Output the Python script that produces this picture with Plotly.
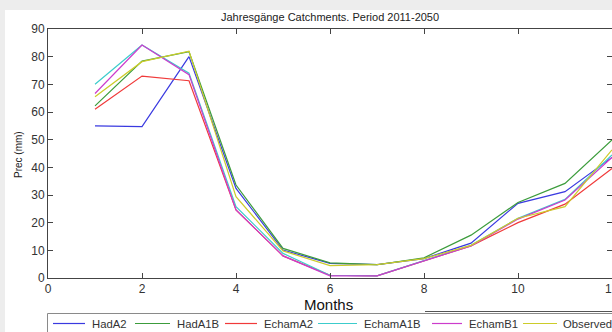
import plotly.graph_objects as go

months = [1, 2, 3, 4, 5, 6, 7, 8, 9, 10, 11, 12]
had_a2 = [55, 54.7, 80, 32.4, 10.1, 5.3, 4.8, 7.0, 12.6, 27.0, 31.2, 43.6]
had_a1b = [62.2, 78.4, 81.8, 33.6, 10.7, 5.5, 4.8, 7.3, 15.5, 27.3, 34.2, 49.9]
echam_a2 = [61, 73, 71.3, 24.6, 8.0, 1.0, 0.8, 6.2, 11.6, 20.0, 26.7, 39.6]
echam_a1b = [70, 84.2, 74, 25.8, 8.9, 1.0, 0.8, 6.3, 11.8, 21.6, 28.4, 44.5]
echam_b1 = [66.7, 84.2, 73.5, 24.6, 8.0, 0.8, 0.8, 6.2, 11.6, 21.3, 28.2, 43.6]
observed = [65.5, 78.2, 82, 29.4, 9.8, 4.5, 4.8, 7.0, 11.8, 21.6, 25.8, 46.3]

series_names = ["HadA2", "HadA1B", "EchamA2", "EchamA1B", "EchamB1", "Observed"]
series_values = [had_a2, had_a1b, echam_a2, echam_a1b, echam_b1, observed]
series_colors = ["#3a3ae0", "#3c9c3c", "#f03a3a", "#3ccccc", "#cc3ccc", "#cccc2a"]

x_ticks = [0, 2, 4, 6, 8, 10, 12]
x_ticktext = ["0", "2", "4", "6", "8", "10", "12"]
y_ticks = [0, 10, 20, 30, 40, 50, 60, 70, 80, 90]

W, H = 612, 332
L, R, T, B = 48, 0, 29, 54
pw, ph = W - L - R, H - T - B


def px_x(p):
    return (p - L) / pw


def px_y(p):
    return (H - B - p) / ph


fig = go.Figure()
for name, vals, col in zip(series_names, series_values, series_colors):
    fig.add_trace(go.Scatter(x=months, y=vals, mode="lines", name=name,
                             line=dict(color=col, width=1.2), showlegend=False))

FONT = "Liberation Sans"
axis_common = dict(
    showgrid=False, zeroline=False, showline=True, linecolor="#444444",
    linewidth=1, mirror="ticks", ticks="inside", ticklen=5,
    tickcolor="#444444", tickfont=dict(family=FONT, size=12, color="#333333"),
)

shapes = [
    dict(type="rect", xref="paper", yref="paper", x0=px_x(0), x1=px_x(W + 5),
         y0=px_y(0), y1=px_y(10), fillcolor="#ededed", line=dict(width=0), layer="below"),
    dict(type="rect", xref="paper", yref="paper", x0=px_x(0), x1=px_x(5),
         y0=px_y(0), y1=px_y(H + 5), fillcolor="#ededed", line=dict(width=0), layer="below"),
    # legend box
    dict(type="rect", xref="paper", yref="paper", x0=px_x(47.5), x1=px_x(W + 10),
         y0=px_y(313.5), y1=px_y(H + 10), fillcolor="white",
         line=dict(width=1, color="#8a8a8a")),
    dict(type="line", xref="paper", yref="paper", x0=px_x(425), x1=px_x(W + 2),
         y0=px_y(311.5), y1=px_y(311.5), line=dict(width=1, color="#555555")),
]

annotations = [
    dict(text="Jahresgänge Catchments. Period 2011-2050", xref="paper", yref="paper",
         x=px_x(330), y=px_y(17), xanchor="center", yanchor="middle", showarrow=False,
         font=dict(family=FONT, size=11, color="#222222")),
    dict(text="Months", xref="paper", yref="paper",
         x=px_x(328), y=px_y(304), xanchor="center", yanchor="middle", showarrow=False,
         font=dict(family=FONT, size=15, color="#111111")),
    dict(text="Prec (mm)", xref="paper", yref="paper", textangle=-90,
         x=px_x(18), y=px_y(155), xanchor="center", yanchor="middle", showarrow=False,
         font=dict(family=FONT, size=10, color="#222222")),
    dict(text=x_ticktext[-1], xref="x", yref="paper", x=x_ticks[-1], y=px_y(289),
         xanchor="center", yanchor="middle", showarrow=False,
         font=dict(family=FONT, size=12, color="#333333")),
]

# manual legend (line sample start/end, text start) in pixels
legend_pos = [(53, 85, 90), (135, 170, 175), (225, 257, 262),
              (318, 357, 362), (432, 462, 467), (523, 557, 561)]
ly = 323.5
for name, col, (a, b, t) in zip(series_names, series_colors, legend_pos):
    shapes.append(dict(type="line", xref="paper", yref="paper", x0=px_x(a), x1=px_x(b),
                       y0=px_y(ly), y1=px_y(ly), line=dict(width=1.2, color=col)))
    annotations.append(dict(text=name, xref="paper", yref="paper", x=px_x(t), y=px_y(ly),
                            xanchor="left", yanchor="middle", showarrow=False,
                            font=dict(family=FONT, size=11.3, color="#333333")))

fig.update_layout(
    width=W, height=H,
    margin=dict(l=L, r=R, t=T, b=B),
    paper_bgcolor="white", plot_bgcolor="white",
    showlegend=False,
    xaxis=dict(range=[0, 12], tickvals=x_ticks[:-1], ticktext=x_ticktext[:-1], **axis_common),
    yaxis=dict(range=[0, 90], tickvals=y_ticks, **axis_common),
    shapes=shapes,
    annotations=annotations,
)

fig.write_html("out.html")
